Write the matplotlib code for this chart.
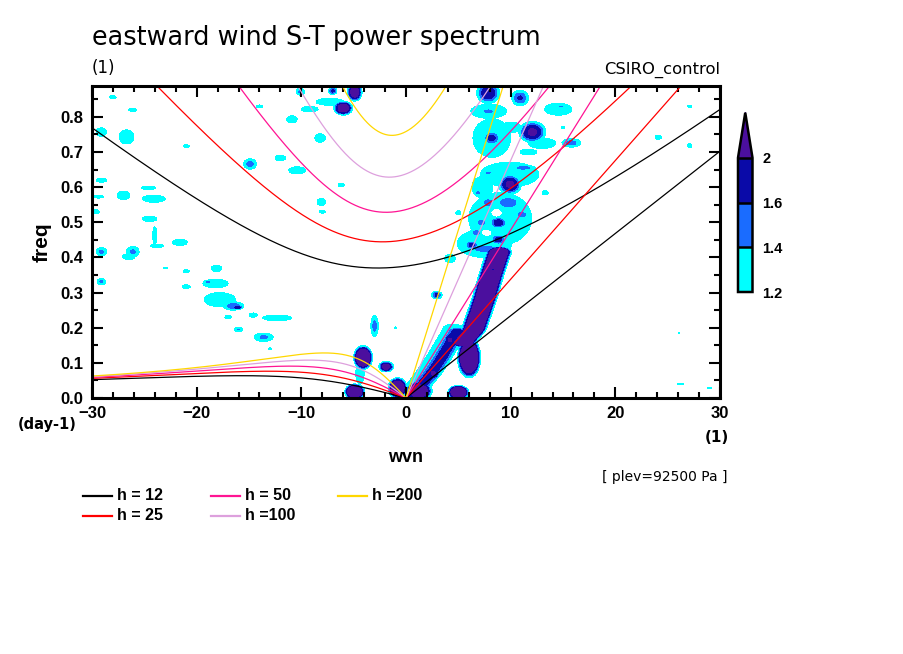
import numpy as np
import matplotlib
matplotlib.use("Agg")
from matplotlib import pyplot as plt
from matplotlib.colors import ListedColormap, BoundaryNorm
from matplotlib.lines import Line2D

plt.rcParams['font.family'] = ['Liberation Sans', 'DejaVu Sans']

# ---- chart values ----
depths = [12, 25, 50, 100, 200]
depth_colors = ["black", "#ff0000", "#ff1493", "#dda0dd", "#ffd700"]
levels = [1.2, 1.4, 1.6, 2.0]
fill_colors = ["#00ffff", "#1a6cff", "#0a0aa8"]
over_color = "#4b0f9e"
xticks = [-30, -20, -10, 0, 10, 20, 30]
yticks = [0.0, 0.1, 0.2, 0.3, 0.4, 0.5, 0.6, 0.7, 0.8]
freq_top = 0.888

# power patches: (wvn, freq, x radius, freq radius, peak)
left_patches = [
    (-29.1, 0.757, 0.5, 0.012, 1.3), (-26.7, 0.743, 0.7, 0.02, 1.32),
    (-28.0, 0.856, 0.3, 0.005, 1.25), (-26.1, 0.82, 0.4, 0.004, 1.25),
    (-21.0, 0.717, 0.3, 0.004, 1.25), (-29.1, 0.62, 0.5, 0.006, 1.28),
    (-27.0, 0.577, 0.6, 0.012, 1.3), (-29.4, 0.573, 0.5, 0.004, 1.25),
    (-24.6, 0.598, 0.7, 0.005, 1.28), (-24.1, 0.567, 1.1, 0.01, 1.3),
    (-29.7, 0.53, 0.4, 0.006, 1.28), (-24.5, 0.51, 0.7, 0.008, 1.3),
    (-24.0, 0.462, 0.2, 0.025, 1.28), (-23.8, 0.433, 0.6, 0.005, 1.28),
    (-21.6, 0.443, 0.7, 0.009, 1.3), (-29.1, 0.416, 0.5, 0.012, 1.45),
    (-26.1, 0.416, 0.6, 0.015, 1.45), (-26.5, 0.402, 0.6, 0.008, 1.3),
    (-18.1, 0.369, 0.5, 0.009, 1.3), (-21.0, 0.361, 0.3, 0.004, 1.25),
    (-29.1, 0.331, 0.4, 0.009, 1.45), (-18.2, 0.326, 1.2, 0.012, 1.38),
    (-18.9, 0.33, 0.4, 0.004, 1.45), (-21.0, 0.317, 0.4, 0.005, 1.28),
    (-17.8, 0.28, 1.5, 0.02, 1.35), (-16.5, 0.262, 1.0, 0.012, 1.55),
    (-16.1, 0.258, 0.5, 0.006, 1.9), (-14.6, 0.236, 0.4, 0.006, 1.28),
    (-17.0, 0.23, 0.3, 0.005, 1.28), (-12.3, 0.228, 1.4, 0.008, 1.3),
    (-16.0, 0.195, 0.4, 0.006, 1.42), (-13.6, 0.173, 0.9, 0.012, 1.45),
    (-13.0, 0.14, 0.15, 0.003, 1.22), (-23.0, 0.37, 0.2, 0.003, 1.22),
]
upper_patches = [
    (-14.9, 0.666, 0.6, 0.015, 1.5), (-12.0, 0.683, 0.5, 0.008, 1.3),
    (-10.4, 0.648, 0.8, 0.01, 1.32), (-10.9, 0.793, 0.5, 0.01, 1.3),
    (-14.0, 0.83, 0.3, 0.004, 1.25), (-10.1, 0.872, 0.4, 0.01, 1.45),
    (-9.2, 0.822, 0.8, 0.008, 1.3), (-6.0, 0.825, 0.9, 0.02, 3.0),
    (-4.9, 0.87, 0.7, 0.025, 3.0), (-7.0, 0.874, 0.4, 0.01, 1.7),
    (-7.3, 0.843, 1.3, 0.01, 1.35), (-8.2, 0.74, 0.5, 0.012, 1.3),
    (-8.1, 0.558, 0.4, 0.01, 1.3), (-8.0, 0.53, 0.3, 0.004, 1.25),
    (-6.2, 0.606, 0.3, 0.005, 1.25),
]
low_blobs = [
    (-4.9, 0.018, 0.95, 0.022, 6.0), (-4.1, 0.115, 0.9, 0.034, 6.0),
    (-4.4, 0.07, 0.4, 0.03, 1.35), (-1.9, 0.089, 0.7, 0.015, 2.6),
    (-0.8, 0.028, 0.9, 0.03, 5.0), (1.2, 0.02, 1.3, 0.028, 4.0),
    (-3.0, 0.205, 0.35, 0.03, 1.5), (5.0, 0.016, 1.0, 0.02, 6.0),
    (-1.0, 0.2, 0.1, 0.003, 1.22), (2.94, 0.293, 0.5, 0.011, 1.7),
    (6.03, 0.115, 1.1, 0.058, 8.0), (2.6, 0.07, 0.6, 0.018, 2.2),
    (4.2, 0.165, 0.6, 0.02, 2.1),
]
strip_patches = [
    (7.86, 0.868, 1.1, 0.03, 2.0), (10.9, 0.854, 0.8, 0.022, 1.65),
    (7.86, 0.816, 1.0, 0.01, 1.45), (7.9, 0.816, 1.7, 0.02, 1.3),
    (14.55, 0.822, 1.3, 0.017, 1.3), (14.8, 0.83, 0.6, 0.003, 1.42),
    (15.0, 0.77, 0.15, 0.004, 1.22), (12.07, 0.757, 1.3, 0.03, 2.2),
    (10.0, 0.77, 1.0, 0.015, 1.3), (13.0, 0.725, 1.3, 0.015, 1.3),
    (11.7, 0.70, 0.8, 0.008, 1.28), (8.18, 0.74, 0.8, 0.02, 1.75),
    (8.2, 0.74, 1.8, 0.055, 1.3), (15.8, 0.726, 0.9, 0.012, 1.5),
    (9.9, 0.636, 2.8, 0.035, 1.3), (11.2, 0.655, 1.2, 0.007, 1.5),
    (9.93, 0.608, 1.1, 0.028, 2.2), (7.86, 0.641, 0.5, 0.006, 1.45),
    (13.3, 0.584, 0.3, 0.006, 1.25), (9.77, 0.556, 1.3, 0.02, 1.55),
    (7.86, 0.556, 0.7, 0.016, 1.5), (11.05, 0.522, 0.7, 0.012, 1.5),
    (9.0, 0.51, 3.0, 0.075, 1.3), (8.82, 0.499, 0.8, 0.016, 1.9),
    (7.2, 0.499, 0.6, 0.012, 1.5), (6.75, 0.47, 0.6, 0.012, 1.5),
    (8.82, 0.451, 0.7, 0.014, 1.8), (5.0, 0.527, 0.25, 0.006, 1.25),
    (6.9, 0.584, 0.4, 0.008, 1.45), (7.5, 0.44, 2.6, 0.04, 1.3),
    (6.28, 0.435, 0.6, 0.012, 1.75), (7.5, 0.425, 1.8, 0.015, 1.5),
    (4.2, 0.397, 0.5, 0.012, 1.3), (7.3, 0.6, 1.0, 0.03, 1.3),
]
right_patches = [
    (27.1, 0.83, 0.2, 0.003, 1.22), (24.1, 0.742, 0.3, 0.006, 1.25),
    (27.1, 0.718, 0.2, 0.006, 1.25), (26.1, 0.185, 0.1, 0.002, 1.22),
    (26.2, 0.04, 0.3, 0.002, 1.22), (29.0, 0.028, 0.2, 0.002, 1.22),
]
# ridges: (freq points, wvn points, x half width, peak, end fall-off)
ridges = [
    ([0.16, 0.193, 0.231, 0.288, 0.355, 0.40, 0.415], [5.5, 6.44, 6.9, 7.55, 8.2, 8.7, 8.9], 1.2, 6.0, 0.015),
    ([0.0, 0.03, 0.07, 0.11, 0.15, 0.19], [0.5, 1.3, 2.4, 3.3, 4.1, 4.9], 1.0, 1.85, 0.01),
    ([0.01, 0.04, 0.08, 0.12, 0.16, 0.2], [0.3, 1.0, 2.0, 2.9, 3.7, 4.5], 0.9, 1.3, 0.01),
]
# white gaps inside the strip: (wvn, freq, x radius, freq radius)
holes = [(8.66, 0.527, 0.35, 0.008), (7.7, 0.47, 0.3, 0.006), (8.3, 0.365, 0.25, 0.006)]

# ---- build the power field ----
wvn = np.linspace(-30, 30, 601)
freq = np.linspace(0, freq_top, 445)
W, F = np.meshgrid(wvn, freq)
power = np.ones_like(W)
for group in [left_patches, upper_patches, low_blobs, strip_patches, right_patches]:
    for x0, y0, rx, ry, p in group:
        fac = np.sqrt(2 * np.log((p - 1) / 0.2))
        sx, sy = rx / fac, ry / fac
        g = 1 + (p - 1) * np.exp(-0.5 * (((W - x0) / sx) ** 2 + ((F - y0) / sy) ** 2))
        power = np.maximum(power, g)
for pf, px, rx, p, ry in ridges:
    fac = np.sqrt(2 * np.log((p - 1) / 0.2))
    xc = np.interp(F, pf, px)
    dy = np.clip(pf[0] - F, 0, None) + np.clip(F - pf[-1], 0, None)
    g = 1 + (p - 1) * np.exp(-0.5 * (((W - xc) / (rx / fac)) ** 2 + (dy / (ry / fac)) ** 2))
    power = np.maximum(power, g)
for x0, y0, rx, ry in holes:
    power = 1 + (power - 1) * (1 - np.exp(-0.5 * (((W - x0) / rx) ** 2 + ((F - y0) / ry) ** 2)))

# ---- equatorial wave dispersion curves (n=1 and Kelvin) ----
grav = 9.81
radius = 6.371e6
omega = 7.292e-5
beta = 2 * omega / radius
to_cpd = 86400 / (2 * np.pi)
s = np.linspace(-30, 30, 1201)


def curves(h):
    c = np.sqrt(grav * h)
    kh = s / radius * np.sqrt(c / beta)
    ig = np.full(s.shape, np.nan)
    er = np.full(s.shape, np.nan)
    for i, k in enumerate(kh):
        r = np.sort(np.real(np.roots([1, 0, -(k ** 2 + 3), -k])))
        ig[i] = r[2]
        if k < 0:
            er[i] = r[1]
    scale = np.sqrt(beta * c) * to_cpd
    kel = np.where(s >= 0, c * s / radius * to_cpd, np.nan)
    return ig * scale, er * scale, kel


fig = plt.figure(figsize=(9.04, 6.54), dpi=100)
ax = fig.add_axes([92 / 904, 1 - 398 / 654, 628 / 904, 312 / 654])

cmap = ListedColormap(fill_colors)
cmap.set_over(over_color)
norm = BoundaryNorm(levels, cmap.N)
cf = ax.contourf(W, F, power, levels=levels, cmap=cmap, norm=norm, extend="max")

for h, col in zip(depths, depth_colors):
    ig, er, kel = curves(h)
    for yy in (ig, er, kel):
        ax.plot(s, yy, color=col, lw=0.9)

ax.set_xlim(-30, 30)
ax.set_ylim(0, freq_top)
ax.set_xticks(xticks)
ax.set_xticks(np.arange(-30, 31, 2), minor=True)
ax.set_yticks(yticks)
ax.set_yticks(np.arange(0, 0.89, 0.05), minor=True)
ax.set_yticklabels([f"{v:.1f}" for v in yticks])
ax.tick_params(which="both", direction="in", top=True, right=True, width=1.5)
ax.tick_params(which="major", length=8, labelsize=12)
ax.tick_params(axis="x", which="major", pad=6)
ax.tick_params(axis="y", which="major", pad=6)
ax.tick_params(which="minor", length=4)
for lab in ax.get_xticklabels() + ax.get_yticklabels():
    lab.set_fontweight("bold")
for sp in ax.spines.values():
    sp.set_linewidth(2.2)

# colorbar
cax = fig.add_axes([738 / 904, 1 - 292 / 654, 14.5 / 904, (292 - 112.7) / 654])
cb = fig.colorbar(cf, cax=cax, extend="max", extendfrac=0.336, drawedges=True, spacing="uniform")
cb.outline.set_linewidth(1.8)
cb.dividers.set_linewidth(1.8)
cb.set_ticks(levels)
cb.set_ticklabels(["1.2", "1.4", "1.6", "2"])
cax.tick_params(length=0, labelsize=10.5, pad=7)
for lab in cax.get_yticklabels():
    lab.set_fontweight("bold")

# texts
thin = "DejaVu Sans"
fig.text(92 / 904, 1 - 38 / 654, "eastward wind S-T power spectrum", fontsize=18.4, family=thin, va="center", ha="left")
fig.text(92 / 904, 1 - 68 / 654, "(1)", fontsize=12, family=thin, va="center", ha="left")
fig.text(720 / 904, 1 - 70 / 654, "CSIRO_control", fontsize=11.8, family=thin, va="center", ha="right")
fig.text(42 / 904, 1 - 242 / 654, "freq", fontsize=15, fontweight="bold", rotation=90, va="center", ha="center")
fig.text(77 / 904, 1 - 424 / 654, "(day-1)", fontsize=10.5, family=thin, fontweight="bold", va="center", ha="right")
fig.text(717 / 904, 1 - 437 / 654, "(1)", fontsize=11, family=thin, fontweight="bold", va="center", ha="center")
fig.text(406 / 904, 1 - 458 / 654, "wvn", fontsize=13, fontweight="bold", va="center", ha="center")
fig.text(728 / 904, 1 - 477 / 654, "[ plev=92500 Pa ]", fontsize=10, family=thin, va="center", ha="right")

# legend
leg_x = [83, 83, 211, 211, 338]
leg_y = [496, 516, 496, 516, 496]
for h, col, lx, ly in zip(depths, depth_colors, leg_x, leg_y):
    fig.add_artist(Line2D([lx / 904, (lx + 29) / 904], [1 - ly / 654, 1 - ly / 654], color=col, lw=1.6))
    fig.text((lx + 34) / 904, 1 - ly / 654, f"h ={h:3d}", fontsize=11.5, fontweight="bold", va="center", ha="left")

fig.savefig("out.png", dpi=100)
